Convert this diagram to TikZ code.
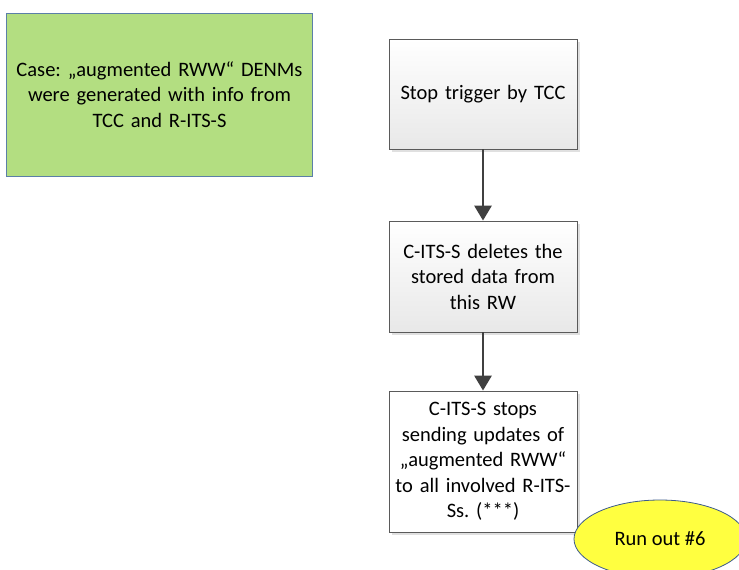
\documentclass[tikz,border=0pt]{standalone}
\usepackage{fontspec}
\setmainfont{Carlito}
\frenchspacing
\usetikzlibrary{shapes.geometric,arrows.meta,shadows}
\definecolor{casegreen}{HTML}{B3DE81}
\definecolor{caseedge}{HTML}{5B7FA8}
\definecolor{flowedge}{HTML}{5A5A5A}
\definecolor{arrowgrey}{HTML}{404040}
\definecolor{runyellow}{HTML}{FFFF40}
\definecolor{runedge}{HTML}{3C5A8C}
\tikzset{
  x=1pt, y=-1pt,
  txt/.style={font=\fontsize{20.5}{25.5}\selectfont, align=center, text=black},
  stepbox/.style={txt, draw=flowedge, line width=0.8pt, minimum width=188pt,
    inner sep=2pt, text width=184pt,
    drop shadow={shadow xshift=3pt, shadow yshift=-3pt, fill=black!12, opacity=1}},
  shadedbox/.style={stepbox, top color=white, bottom color=black!9},
  flowarrow/.style={draw=arrowgrey, line width=2.8pt,
    -{Triangle[length=15pt,width=17pt]}},
}
\begin{document}
\begin{tikzpicture}
\useasboundingbox (0,0) rectangle (739,570);
% case description
\node[txt, draw=caseedge, line width=0.8pt, fill=casegreen,
  minimum width=303pt, minimum height=163pt, text width=299pt]
  (case) at (159.5,94.5) {Case: „augmented RWW“ DENMs\\were generated with info from\\TCC and R-ITS-S};
% flow steps
\node[shadedbox, minimum height=110pt] (s1) at (483,94)
  {Stop trigger by TCC};
\node[shadedbox, minimum height=111pt] (s2) at (483,276.5)
  {C-ITS-S deletes the\\stored data from\\this RW};
\node[stepbox, fill=white, minimum height=141pt] (s3) at (483,461.5)
  {C-ITS-S stops\\sending updates of\\„augmented RWW“\\to all involved R-ITS-\\Ss. (***)};
\draw[flowarrow] (s1.south) -- (s2.north);
\draw[flowarrow] (s2.south) -- (s3.north);
% run-out marker, clipped at the page edge
\begin{scope}
\clip (0,0) rectangle (739,570);
\node[ellipse, draw=runedge, line width=0.8pt, fill=runyellow,
  minimum width=172pt, minimum height=78pt, inner sep=0pt, txt]
  (run) at (660,539) {Run out \#6};
\end{scope}
\end{tikzpicture}
\end{document}
